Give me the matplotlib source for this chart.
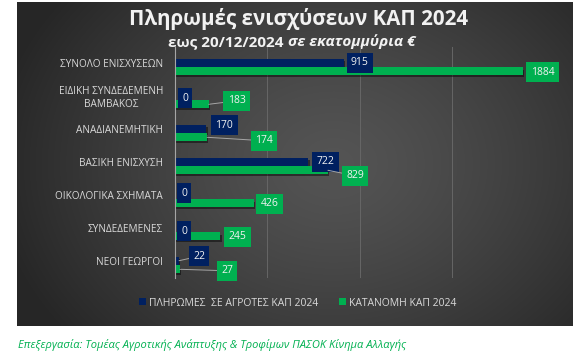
import numpy as np
import matplotlib
matplotlib.use('Agg')
import matplotlib.pyplot as plt
from matplotlib.patches import Patch
import matplotlib.patheffects as pe
import matplotlib.transforms as mtrans

plt.rcParams['font.family'] = ['Open Sans', 'DejaVu Sans']

# ---------------- data ----------------
categories = ['ΣΥΝΟΛΟ ΕΝΙΣΧΥΣΕΩΝ', 'ΕΙΔΙΚΗ ΣΥΝΔΕΔΕΜΕΝΗ\nΒΑΜΒΑΚΟΣ', 'ΑΝΑΔΙΑΝΕΜΗΤΙΚΗ',
              'ΒΑΣΙΚΗ ΕΝΙΣΧΥΣΗ', 'ΟΙΚΟΛΟΓΙΚΑ ΣΧΗΜΑΤΑ', 'ΣΥΝΔΕΔΕΜΕΝΕΣ', 'ΝΕΟΙ ΓΕΩΡΓΟΙ']
payments = [915, 0, 170, 722, 0, 0, 22]
allocation = [1884, 183, 174, 829, 426, 245, 27]
series_names = ['ΠΛΗΡΩΜΕΣ  ΣΕ ΑΓΡΟΤΕΣ ΚΑΠ 2024', 'ΚΑΤΑΝΟΜΗ ΚΑΠ 2024']
x_ticks = [0, 500, 1000, 1500, 2000]
title = 'Πληρωμές ενισχύσεων ΚΑΠ 2024'
subtitle_a = 'εως 20/12/2024 '
subtitle_b = 'σε εκατομμύρια €'
caption = 'Επεξεργασία: Τομέας Αγροτικής Ανάπτυξης & Τροφίμων ΠΑΣΟΚ Κίνημα Αλλαγής'

# label placement (pixel offsets from bar end: right, down) and leader lines
pay_off = [(16, 0), (10, 2.5), (18, -3.5), (17, 0), (9, -1.5), (9, 3.5), (20, -4.5)]
alloc_off = [(20, 1), (28, -3.5), (57, 3.5), (27, 5.5), (16, 0.5), (17, 0.5), (47, 1.5)]
pay_lead = [False, False, False, False, False, False, True]
alloc_lead = [False, True, True, True, False, False, True]

NAVY = '#002060'
GREEN = '#00B050'
W, H = 586, 359

fig = plt.figure(figsize=(W / 100, H / 100), dpi=100)
fig.patch.set_facecolor('white')

# background with radial gradient
bg = fig.add_axes([0, 0, 1, 1], zorder=-10)
bg.axis('off')
gx, gy = np.meshgrid(np.linspace(0, 1, 300), np.linspace(0, 1, 200))
r = np.sqrt(((gx - 0.57) / 0.62) ** 2 + ((gy - 0.5) / 0.85) ** 2)
v = 0.33 - (0.33 - 0.15) * np.clip(r, 0, 1) ** 1.3
img = np.dstack([v, v, v])
bg.imshow(img, extent=(17, 573, 326, 2), aspect='auto', interpolation='bilinear')
bg.set_xlim(0, W)
bg.set_ylim(H, 0)

# main axes
x0, x1 = 175, 544
y0, y1 = 47, 278
ax = fig.add_axes([x0 / W, 1 - y1 / H, (x1 - x0) / W, (y1 - y0) / H])
ax.set_facecolor('none')
n = len(categories)
idx = np.arange(n)
off = 0.13
h = 0.23
shadow = [pe.SimplePatchShadow(offset=(1, -1.5), alpha=0.45, shadow_rgbFace='black'), pe.Normal()]
b1 = ax.barh(idx - off, payments, height=h, color=NAVY, zorder=3)
b2 = ax.barh(idx + off, allocation, height=h, color=GREEN, zorder=3)
for b in list(b1) + list(b2):
    b.set_path_effects(shadow)

ax.set_xlim(0, 2000)
ax.set_ylim(n - 1 + 0.394, -0.606)
ax.set_xticks(x_ticks)
ax.xaxis.grid(True, color='#666666', linewidth=0.7, zorder=0)
ax.tick_params(axis='x', length=0, labelbottom=False)
ax.set_yticks(idx)
ax.set_yticklabels(categories, color='#d9d9d9', fontsize=7.2, multialignment='center')
ax.tick_params(axis='y', length=0, pad=8.5)
shift = mtrans.ScaledTranslation(0, 0.04, fig.dpi_scale_trans)
for lab in ax.get_yticklabels():
    lab.set_transform(lab.get_transform() + shift)
for s in ['top', 'right', 'bottom']:
    ax.spines[s].set_visible(False)
ax.spines['left'].set_color('#a6a6a6')
ax.spines['left'].set_linewidth(0.8)
ax.spines['left'].set_zorder(4)


def put_labels(values, ys, offsets, leads, color):
    for v_, y_, (dx, dy), lead in zip(values, ys, offsets, leads):
        kw = dict(xy=(v_, y_), xytext=(dx, -dy), textcoords='offset pixels',
                  ha='center', va='center', fontsize=7.5, color='#f2f2f2', zorder=6,
                  bbox=dict(boxstyle='square,pad=0.42', fc=color, ec='none'))
        if lead:
            kw['arrowprops'] = dict(arrowstyle='-', color='#a6a6a6', lw=0.7,
                                    shrinkA=0, shrinkB=0)
        ax.annotate(f'{v_}', **kw)


put_labels(payments, idx - off, pay_off, pay_lead, NAVY)
put_labels(allocation, idx + off, alloc_off, alloc_lead, GREEN)

# titles
bg.text(299, 25, title, ha='center', va='baseline', fontsize=14.8, fontweight='bold', color='#f2f2f2')
ta = bg.text(168, 46, subtitle_a, ha='left', va='baseline', fontsize=11, fontweight='bold', color='#f2f2f2')
bg.annotate(subtitle_b, xy=(1, 0), xycoords=ta, ha='left', va='bottom', fontsize=11,
            fontweight='bold', fontstyle='italic', color='#f2f2f2')

# legend
handles = [Patch(facecolor=NAVY, edgecolor='none'), Patch(facecolor=GREEN, edgecolor='none')]
fig.legend(handles, series_names, loc='center', bbox_to_anchor=(298 / W, 1 - 303 / H),
           ncol=2, frameon=False, fontsize=7.5, labelcolor='#d9d9d9', handlelength=0.65,
           handleheight=0.65, handletextpad=0.3, columnspacing=2.0)

# caption
bg.text(18, 348, caption, ha='left', va='baseline', fontsize=8, fontstyle='italic', color=GREEN)

fig.savefig('out.png', dpi=100, facecolor='white')
